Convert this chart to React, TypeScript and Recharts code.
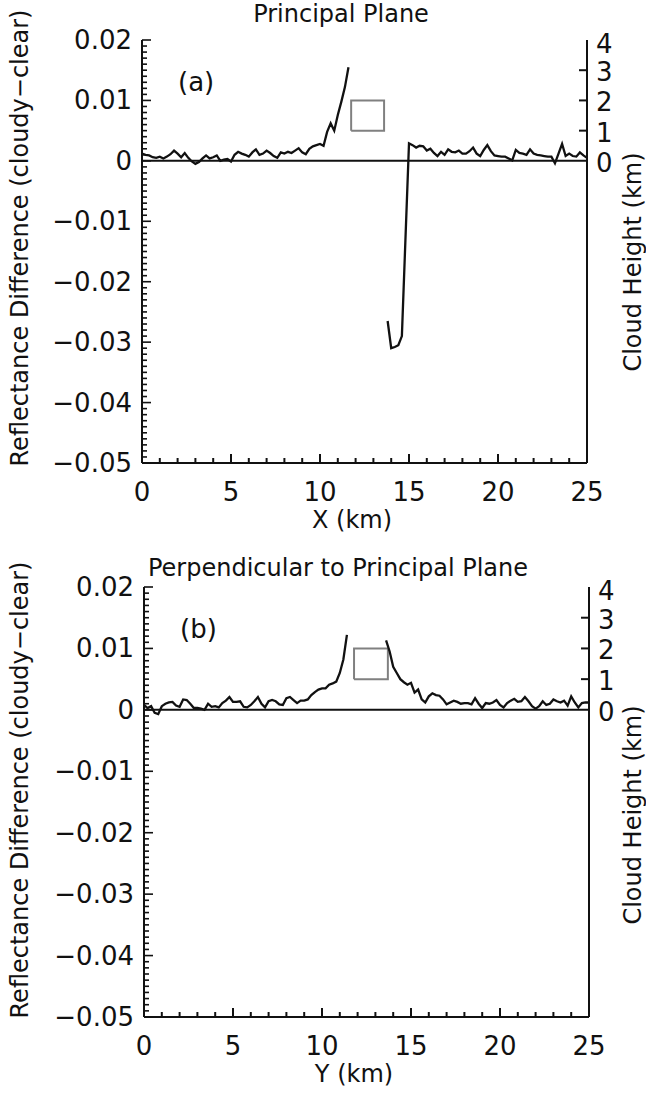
import React from "react"
import { ComposedChart, Line, XAxis, YAxis, ReferenceLine } from "recharts"

// sample positions along the track (km)
const distanceKm = [
  0, 0.2, 0.4, 0.6, 0.8, 1, 1.2, 1.4, 1.6, 1.8, 2, 2.2, 2.4, 2.6, 2.8, 3, 3.2, 3.4, 3.6, 3.8,
  4, 4.2, 4.4, 4.6, 4.8, 5, 5.2, 5.4, 5.6, 5.8, 6, 6.2, 6.4, 6.6, 6.8, 7, 7.2, 7.4, 7.6, 7.8,
  8, 8.2, 8.4, 8.6, 8.8, 9, 9.2, 9.4, 9.6, 9.8, 10, 10.2, 10.4, 10.6, 10.8, 11, 11.2, 11.4, 11.6, 11.8,
  12, 12.2, 12.4, 12.6, 12.8, 13, 13.2, 13.4, 13.6, 13.8, 14, 14.2, 14.4, 14.6, 14.8, 15, 15.2, 15.4, 15.6, 15.8,
  16, 16.2, 16.4, 16.6, 16.8, 17, 17.2, 17.4, 17.6, 17.8, 18, 18.2, 18.4, 18.6, 18.8, 19, 19.2, 19.4, 19.6, 19.8,
  20, 20.2, 20.4, 20.6, 20.8, 21, 21.2, 21.4, 21.6, 21.8, 22, 22.2, 22.4, 22.6, 22.8, 23, 23.2, 23.4, 23.6, 23.8,
  24, 24.2, 24.4, 24.6, 24.8, 25,
]

// (a) principal plane, reflectance difference cloudy - clear
const principalDiff = [
  0.0012, 0.0010, 0.0009, 0.0006, 0.0005, 0.0007, 0.0004, 0.0007, 0.0011, 0.0017,
  0.0012, 0.0006, 0.0013, 0.0005, -0.0001, -0.0005, -0.0002, 0.0004, 0.0009, 0.0004,
  0.0006, 0.0009, 0.0000, 0.0002, 0.0003, -0.0001, 0.0010, 0.0015, 0.0012, 0.0010,
  0.0007, 0.0014, 0.0019, 0.0010, 0.0012, 0.0017, 0.0013, 0.0008, 0.0005, 0.0014,
  0.0012, 0.0015, 0.0013, 0.0017, 0.0021, 0.0014, 0.0011, 0.0020, 0.0024, 0.0026,
  0.0028, 0.0025, 0.0048, 0.0062, 0.0050, 0.0076, 0.0098, 0.0122, 0.0155,
  null, null, null, null, null, null, null, null, null, null,
  -0.0265, -0.0310, -0.0308, -0.0305, -0.0290, -0.0130,
  0.0029, 0.0026, 0.0022, 0.0025, 0.0024, 0.0017, 0.0020, 0.0013, 0.0008, 0.0015,
  0.0010, 0.0019, 0.0015, 0.0014, 0.0017, 0.0012, 0.0012, 0.0016, 0.0022, 0.0012,
  0.0008, 0.0018, 0.0026, 0.0016, 0.0009, 0.0008, 0.0007, 0.0007, 0.0004, 0.0001,
  0.0018, 0.0013, 0.0012, 0.0010, 0.0019, 0.0012, 0.0010, 0.0009, 0.0008, 0.0007,
  0.0007, -0.0004, 0.0012, 0.0028, 0.0008, 0.0012, 0.0008, 0.0007, 0.0014, 0.0009,
  0.0005,
]

// (b) perpendicular to principal plane
const perpDiff = [
  0.0008, 0.0003, 0.0006, -0.0005, -0.0007, 0.0006, 0.0010, 0.0012, 0.0013, 0.0007,
  0.0005, 0.0017, 0.0016, 0.0010, 0.0003, 0.0003, 0.0002, 0.0000, 0.0010, 0.0005,
  0.0006, 0.0004, 0.0011, 0.0015, 0.0021, 0.0013, 0.0013, 0.0014, 0.0005, 0.0004,
  0.0008, 0.0014, 0.0021, 0.0010, 0.0004, 0.0014, 0.0016, 0.0014, 0.0009, 0.0008,
  0.0019, 0.0021, 0.0016, 0.0011, 0.0015, 0.0015, 0.0017, 0.0024, 0.0029, 0.0033,
  0.0035, 0.0035, 0.0041, 0.0043, 0.0046, 0.0060, 0.0082, 0.0122,
  null, null, null, null, null, null, null, null, null, null,
  0.0113, 0.0095, 0.0070, 0.0060, 0.0050, 0.0045, 0.0041, 0.0044, 0.0028, 0.0033,
  0.0017, 0.0012, 0.0022, 0.0027, 0.0024, 0.0023, 0.0017, 0.0009, 0.0012, 0.0015,
  0.0013, 0.0010, 0.0011, 0.0011, 0.0009, 0.0019, 0.0010, 0.0003, 0.0011, 0.0010,
  0.0012, 0.0016, 0.0008, 0.0004, 0.0011, 0.0015, 0.0018, 0.0013, 0.0014, 0.0021,
  0.0014, 0.0006, 0.0002, 0.0006, 0.0014, 0.0008, 0.0010, 0.0017, 0.0014, 0.0012,
  0.0015, 0.0007, 0.0022, 0.0012, 0.0004, 0.0011, 0.0012, 0.0012,
]

// cloud block outline: along-track km and cloud height km
const cloudA = [
  { x: 11.75, h: 1 }, { x: 13.6, h: 1 }, { x: 13.6, h: 2 }, { x: 11.75, h: 2 }, { x: 11.75, h: 1 },
]
const cloudB = [
  { x: 11.8, h: 1 }, { x: 13.7, h: 1 }, { x: 13.7, h: 2 }, { x: 11.8, h: 2 }, { x: 11.8, h: 1 },
]

const xMajor = [0, 5, 10, 15, 20, 25]
const xTicks = Array.from({ length: 26 }, (_, i) => i)
const leftMajorLabels: Record<number, string> = {
  20: "0.02", 10: "0.01", 0: "0", [-10]: "\u22120.01", [-20]: "\u22120.02",
  [-30]: "\u22120.03", [-40]: "\u22120.04", [-50]: "\u22120.05",
}
const leftTicks = Array.from({ length: 71 }, (_, i) => (i - 50) / 1000)
const heightTicks = [0, 1, 2, 3, 4]

const FONT = "'DejaVu Sans', sans-serif"
const INK = "#111"

const BottomTick = (props: any) => {
  const { x, y, payload } = props
  const major = xMajor.includes(payload.value)
  return (
    <g>
      <line x1={x} y1={y} x2={x} y2={y - (major ? 9 : 5)} stroke={INK} strokeWidth={2} />
      {major && <text x={x} y={y + 38} textAnchor="middle" fontSize={26} fill={INK}>{payload.value}</text>}
    </g>
  )
}

const TopTick = (props: any) => {
  const { x, y, payload } = props
  const major = xMajor.includes(payload.value)
  return (
    <g>
      <line x1={x} y1={y} x2={x} y2={y + (major ? 9 : 5)} stroke={INK} strokeWidth={2} />
    </g>
  )
}

const LeftTick = (props: any) => {
  const { x, y, payload } = props
  const k = Math.round(payload.value * 1000)
  const major = k % 10 === 0
  return (
    <g>
      <line x1={x} y1={y} x2={x + (major ? 9 : 5)} y2={y} stroke={INK} strokeWidth={1.6} />
      {major && <text x={x - 10} y={y + 9} textAnchor="end" fontSize={26} fill={INK}>{leftMajorLabels[k]}</text>}
    </g>
  )
}

const RightTick = (props: any) => {
  const { x, y, payload } = props
  const v = payload.value
  return (
    <g>
      {v > 0 && v < 4 && <line x1={x} y1={y} x2={x - 8} y2={y} stroke={INK} strokeWidth={2} />}
      <text x={x + 9} y={y + (v === 4 ? 13 : 11)} textAnchor="start" fontSize={26} fill={INK}>{v}</text>
    </g>
  )
}

function Panel({ values, cloud, leftW, rightW, bottomH, height, tag }: any) {
  const data = distanceKm.map((x, i) => ({ x, v: values[i] }))
  return (
    <ComposedChart width={646} height={height} data={data} margin={{ top: 40, right: 0, bottom: 0, left: 0 }}>
      <XAxis dataKey="x" type="number" domain={[0, 25]} ticks={xTicks} interval={0}
        tickLine={false} tickSize={0} tickMargin={0} height={bottomH}
        axisLine={{ stroke: INK, strokeWidth: 2 }} tick={<BottomTick />} />
      <XAxis xAxisId="top" orientation="top" dataKey="x" type="number" domain={[0, 25]} ticks={xTicks} interval={0}
        tickLine={false} tickSize={0} tickMargin={0} height={0}
        axisLine={{ stroke: INK, strokeWidth: 2 }} tick={<TopTick />} />
      <YAxis yAxisId="left" type="number" domain={[-0.05, 0.02]} ticks={leftTicks} interval={0}
        tickLine={false} tickSize={0} tickMargin={0} width={leftW}
        axisLine={{ stroke: INK, strokeWidth: 2 }} tick={<LeftTick />} />
      <YAxis yAxisId="right" orientation="right" type="number" domain={[-10, 4]} ticks={heightTicks} interval={0}
        allowDataOverflow tickLine={false} tickSize={0} tickMargin={0} width={rightW}
        axisLine={{ stroke: INK, strokeWidth: 2 }} tick={<RightTick />} />
      <ReferenceLine yAxisId="left" y={0} stroke={INK} strokeWidth={2} />
      <Line yAxisId="right" data={cloud} dataKey="h" type="linear" stroke="#808080" strokeWidth={2}
        dot={false} activeDot={false} isAnimationActive={false} />
      <Line yAxisId="left" dataKey="v" type="linear" stroke={INK} strokeWidth={2.3} dot={false}
        connectNulls={false} isAnimationActive={false} />
      <Line xAxisId="top" yAxisId="left" dataKey="v" stroke="none" dot={false} activeDot={false} isAnimationActive={false} />
      <text x={leftW + 36} y={91} fontSize={26} fill={INK}>{tag}</text>
    </ComposedChart>
  )
}

const txt = (extra: React.CSSProperties): React.CSSProperties => ({
  position: "absolute", fontSize: 24, color: INK, whiteSpace: "nowrap", lineHeight: 1, ...extra,
})

export default function App() {
  return (
    <div style={{ position: "absolute", left: 0, top: 0, width: 646, height: 1093, fontFamily: FONT }}>
      <div style={{ position: "absolute", left: 0, top: 0 }}>
        <Panel values={principalDiff} cloud={cloudA} leftW={142} rightW={59} bottomH={82} height={545} tag="(a)" />
      </div>
      <div style={{ position: "absolute", left: 0, top: 547 }}>
        <Panel values={perpDiff} cloud={cloudB} leftW={144} rightW={57} bottomH={76} height={546} tag="(b)" />
      </div>
      <div style={txt({ left: 341, top: 2, transform: "translateX(-50%)" })}>Principal Plane</div>
      <div style={txt({ left: 352, top: 508, transform: "translateX(-50%)" })}>X (km)</div>
      <div style={txt({ left: 338, top: 556, transform: "translateX(-50%)" })}>Perpendicular to Principal Plane</div>
      <div style={txt({ left: 354, top: 1062, transform: "translateX(-50%)" })}>Y (km)</div>
      <div style={txt({ left: 20, top: 238, transform: "translate(-50%, -50%) rotate(-90deg)" })}>Reflectance Difference (cloudy&minus;clear)</div>
      <div style={txt({ left: 20, top: 790, transform: "translate(-50%, -50%) rotate(-90deg)" })}>Reflectance Difference (cloudy&minus;clear)</div>
      <div style={txt({ left: 633, top: 262, transform: "translate(-50%, -50%) rotate(-90deg)" })}>Cloud Height (km)</div>
      <div style={txt({ left: 633, top: 815, transform: "translate(-50%, -50%) rotate(-90deg)" })}>Cloud Height (km)</div>
    </div>
  )
}
